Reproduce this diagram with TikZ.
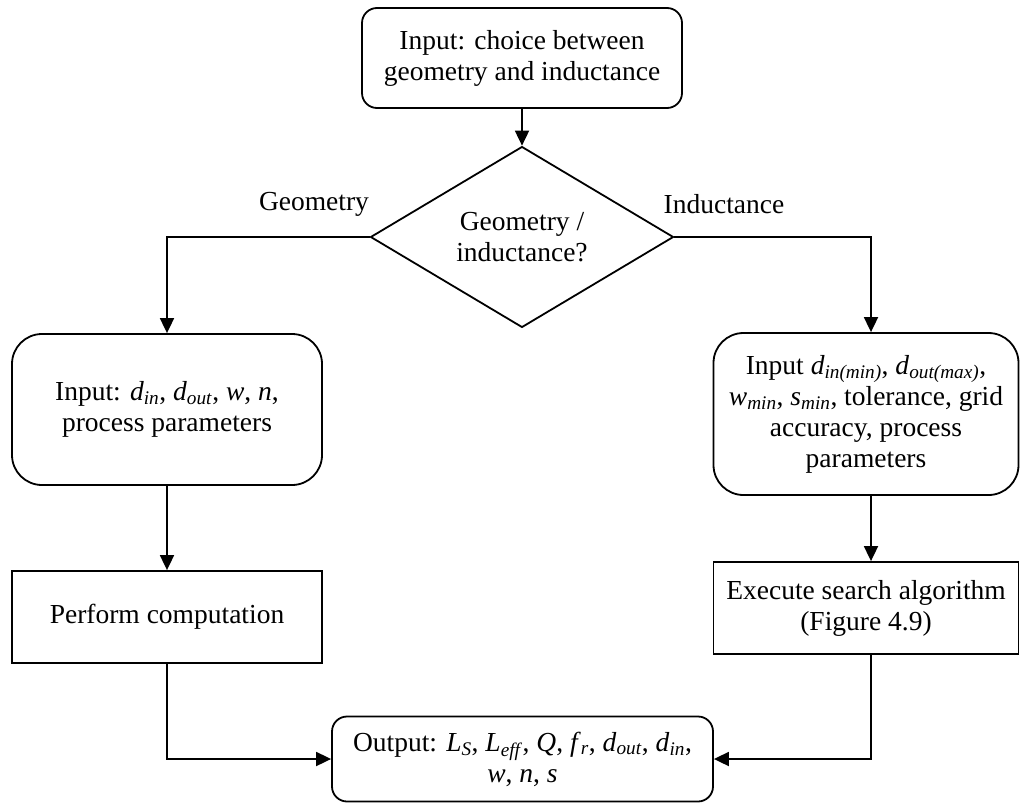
\documentclass[tikz,border=0pt]{standalone}
\usepackage{fontspec}
\setmainfont{Liberation Serif}
\usetikzlibrary{shapes.geometric,arrows.meta}
\newcommand{\vsb}[2]{\textit{#1}\textsubscript{\textit{#2}}}
\begin{document}
\begin{tikzpicture}[x=1pt,y=-1pt,
  every node/.style={font=\fontsize{27.5}{31}\selectfont, align=center, inner sep=0pt},
  arr/.style={line width=1.8pt, -{Triangle[length=15pt,width=14pt]}},
  rbox/.style={draw, line width=1.8pt, rounded corners=15pt},
  bigbox/.style={draw, line width=1.8pt, rounded corners=30pt},
  sbox/.style={draw, line width=1.8pt},
  decision/.style={draw, line width=1.8pt, diamond, minimum width=303pt, minimum height=158pt}
]
\useasboundingbox (0,0) rectangle (1020,803);
\node[rbox, minimum width=320pt, minimum height=100pt] (top) at (522,58) {Input: choice between\\geometry and inductance};
\node[decision] (dia) at (522,237) {Geometry /\\inductance?};
\node[bigbox, minimum width=310pt, minimum height=151pt] (l1) at (167,409.5) {Input: \vsb{d}{in}, \vsb{d}{out}, \textit{w}, \textit{n},\\process parameters};
\node[bigbox, minimum width=305pt, minimum height=162pt] (r1) at (866,414) {Input \vsb{d}{in(min)}, \vsb{d}{out(max)},\\\vsb{w}{min}, \vsb{s}{min}, tolerance, grid\\accuracy, process\\parameters};
\node[sbox, minimum width=310pt, minimum height=92pt] (l2) at (167,617) {Perform computation};
\node[sbox, minimum width=305pt, minimum height=92pt] (r2) at (866,608) {Execute search algorithm\\(Figure 4.9)};
\node[rbox, minimum width=381pt, minimum height=85pt] (out) at (522.5,759) {Output: \vsb{L}{S}, \vsb{L}{eff}, \textit{Q}, \vsb{f}{r}, \vsb{d}{out}, \vsb{d}{in},\\\textit{w}, \textit{n}, \textit{s}};
\node (geo) at (314,204) {Geometry};
\node (ind) at (724,204) {Inductance};
\draw[arr] (top.south) -- (dia.north);
\draw[arr] (dia.west) -| (l1.north);
\draw[arr] (dia.east) -| ([xshift=5pt]r1.north);
\draw[arr] (l1.south) -- (l2.north);
\draw[arr] ([xshift=5pt]r1.south) -- ([xshift=5pt]r2.north);
\draw[arr] (l2.south) |- (out.west);
\draw[arr] ([xshift=5pt]r2.south) |- (out.east);
\end{tikzpicture}
\end{document}
